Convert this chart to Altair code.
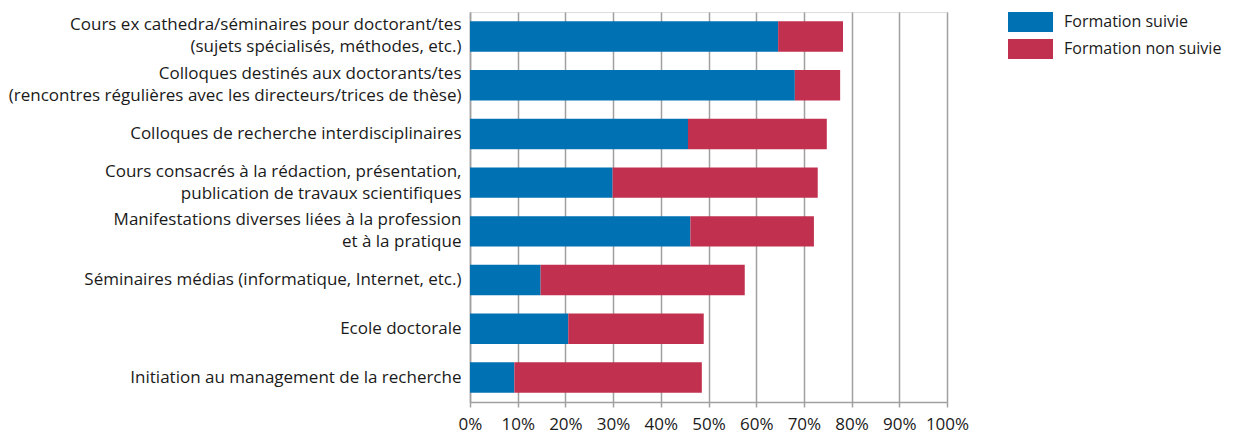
import altair as alt
import pandas as pd

categories = [
    "Cours ex cathedra/séminaires pour doctorant/tes\n(sujets spécialisés, méthodes, etc.)",
    "Colloques destinés aux doctorants/tes\n(rencontres régulières avec les directeurs/trices de thèse)",
    "Colloques de recherche interdisciplinaires",
    "Cours consacrés à la rédaction, présentation,\npublication de travaux scientifiques",
    "Manifestations diverses liées à la profession\net à la pratique",
    "Séminaires médias (informatique, Internet, etc.)",
    "Ecole doctorale",
    "Initiation au management de la recherche",
]
suivie = [64.6, 68.1, 45.7, 29.9, 46.2, 14.8, 20.6, 9.3]
non_suivie = [13.6, 9.5, 29.1, 43.0, 25.9, 42.8, 28.4, 39.3]
series = ["Formation suivie", "Formation non suivie"]
colors = ["#0071B3", "#C1304E"]
x_ticks = [0, 10, 20, 30, 40, 50, 60, 70, 80, 90, 100]

rows = []
for c, a, b in zip(categories, suivie, non_suivie):
    rows.append({"cat": c, "serie": series[0], "val": a, "ord": 0})
    rows.append({"cat": c, "serie": series[1], "val": b, "ord": 1})
df = pd.DataFrame(rows)

FONT = "Open Sans"
FS = 17

chart = alt.Chart(df).mark_bar().encode(
    y=alt.Y("cat:N", sort=categories, title=None,
            scale=alt.Scale(paddingInner=0.375, paddingOuter=0.19),
            axis=alt.Axis(labelExpr="split(datum.label, '\\n')", labelFontSize=FS,
                          labelLineHeight=22, ticks=False, labelPadding=9,
                          labelOffset={"condition": {"test": "indexof(datum.label, '\\n') >= 0",
                                                     "value": -11}, "value": 0},
                          labelLimit=700, domainColor="#a0a0a0", domainWidth=1.5,
                          labelColor="#1a1a1a", labelFont=FONT, grid=False)),
    x=alt.X("val:Q", stack="zero", title=None,
            scale=alt.Scale(domain=[0, 100], nice=False),
            axis=alt.Axis(values=x_ticks, labelExpr="datum.value + '%'",
                          labelFontSize=FS, labelFont=FONT, labelColor="#1a1a1a",
                          labelOverlap=False, labelFlush=False,
                          grid=True, gridColor="#a0a0a0", gridWidth=1.5,
                          tickColor="#a0a0a0", tickWidth=1.5, tickSize=5,
                          domainColor="#a0a0a0", domainWidth=1.5, labelPadding=9)),
    color=alt.Color("serie:N", sort=series,
                    scale=alt.Scale(domain=series, range=colors),
                    legend=alt.Legend(title=None, orient="none", legendX=538, legendY=0,
                                      padding=0, labelLimit=300,
                                      symbolType="M-1,-1L3.5,-1L3.5,1L-1,1Z",
                                      symbolSize=400, symbolStrokeWidth=0,
                                      labelFontSize=16, labelFont=FONT,
                                      labelColor="#1a1a1a", labelOffset=36,
                                      rowPadding=7, symbolOpacity=1)),
    order=alt.Order("ord:Q"),
).properties(
    width=477, height=390,
    padding={"left": 0, "top": 4, "right": 0, "bottom": 0},
).configure_view(
    fill="#efefef", stroke="#a0a0a0", strokeWidth=1.5
).configure(
    background="white"
)

chart.save("out.html", embed_options={"renderer": "svg", "actions": False})
